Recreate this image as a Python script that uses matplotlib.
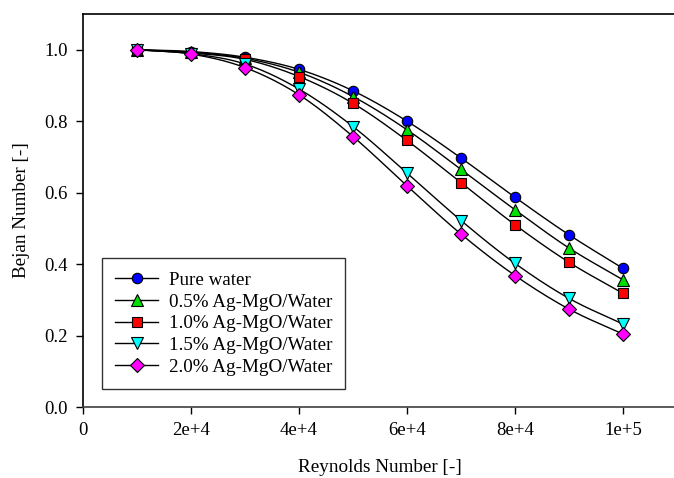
import matplotlib
matplotlib.use("Agg")
import matplotlib.pyplot as plt
from matplotlib.lines import Line2D
import numpy as np

plt.rcParams["font.family"] = ["Liberation Serif", "DejaVu Serif"]

# ── data ──────────────────────────────────────────────────────────────────
reynolds = [1e4, 2e4, 3e4, 4e4, 5e4, 6e4, 7e4, 8e4, 9e4, 1e5]

be_pure = [1.000, 0.995, 0.979, 0.945, 0.885, 0.800, 0.697, 0.587, 0.482, 0.388]
be_05   = [1.000, 0.993, 0.976, 0.937, 0.869, 0.776, 0.665, 0.552, 0.445, 0.356]
be_10   = [1.000, 0.991, 0.973, 0.925, 0.850, 0.746, 0.628, 0.510, 0.405, 0.318]
be_15   = [1.000, 0.989, 0.960, 0.890, 0.785, 0.655, 0.522, 0.402, 0.304, 0.232]
be_20   = [1.000, 0.988, 0.950, 0.874, 0.757, 0.619, 0.484, 0.368, 0.274, 0.204]

labels = ["Pure water", "0.5% Ag-MgO/Water", "1.0% Ag-MgO/Water",
          "1.5% Ag-MgO/Water", "2.0% Ag-MgO/Water"]
series = [be_pure, be_05, be_10, be_15, be_20]

markers = ["o", "^", "s", "v", "D"]
colours = ["#0000FF", "#00E000", "#FF0000", "#00FFFF", "#FF00FF"]
msizes  = [7.5, 8, 7, 8, 7]


def _smooth(x, y, n=20):
    """Catmull-Rom curve through the points, for drawing the line only."""
    x = np.asarray(x, float)
    y = np.asarray(y, float)
    px = np.concatenate([[2 * x[0] - x[1]], x, [2 * x[-1] - x[-2]]])
    py = np.concatenate([[2 * y[0] - y[1]], y, [2 * y[-1] - y[-2]]])
    t = np.linspace(0, 1, n, endpoint=False)
    xs, ys = [], []
    for i in range(1, len(px) - 2):
        for p, out in ((px, xs), (py, ys)):
            p0, p1, p2, p3 = p[i - 1], p[i], p[i + 1], p[i + 2]
            out.extend(0.5 * (2 * p1 + (-p0 + p2) * t
                              + (2 * p0 - 5 * p1 + 4 * p2 - p3) * t ** 2
                              + (-p0 + 3 * p1 - 3 * p2 + p3) * t ** 3))
    xs.append(x[-1])
    ys.append(y[-1])
    return np.array(xs), np.array(ys)


fig = plt.figure(figsize=(6.74, 4.78), dpi=100, facecolor="white")
ax = fig.add_axes([83 / 674, 71 / 478, 594 / 674, 393 / 478])

for vals, mk, col, ms in zip(series, markers, colours, msizes):
    sx, sy = _smooth(reynolds, vals)
    ax.plot(sx, sy, color="black", lw=1.0, zorder=2)
    ax.plot(reynolds, vals, ls="none", marker=mk, ms=ms, mfc=col,
            mec="black", mew=0.8, zorder=3)

ax.set_xlim(0, 1.1e5)
ax.set_ylim(0, 1.1)
ax.set_xticks([0, 2e4, 4e4, 6e4, 8e4, 1e5])
ax.set_xticklabels(["0", "2e+4", "4e+4", "6e+4", "8e+4", "1e+5"])
ax.set_yticks([0, 0.2, 0.4, 0.6, 0.8, 1.0])
ax.set_yticklabels(["0.0", "0.2", "0.4", "0.6", "0.8", "1.0"])
ax.tick_params(direction="out", length=5, width=1, labelsize=13.5, pad=6,
               top=False, right=False)
ax.spines["right"].set_visible(False)
for s in ("left", "top"):
    ax.spines[s].set_linewidth(1.2)
ax.spines["bottom"].set_color("#404040")
ax.spines["bottom"].set_linewidth(1.2)

ax.set_xlabel("Reynolds Number [-]", fontsize=13.8, labelpad=14)
ax.set_ylabel("Bejan Number [-]", fontsize=13.8, labelpad=10)

handles = [Line2D([], [], color="black", lw=1.0, marker=mk, ms=ms, mfc=col,
                  mec="black", mew=0.8)
           for mk, col, ms in zip(markers, colours, msizes)]
leg = ax.legend(handles, labels, loc="lower left",
                bbox_to_anchor=(19 / 594, 18 / 393), borderaxespad=0,
                fontsize=13.7, frameon=True, fancybox=False,
                edgecolor="black", handlelength=2.25, labelspacing=0.23,
                borderpad=0.7, handletextpad=0.55)
leg.get_frame().set_linewidth(1.0)

fig.savefig("out.png", dpi=100, facecolor="white")
